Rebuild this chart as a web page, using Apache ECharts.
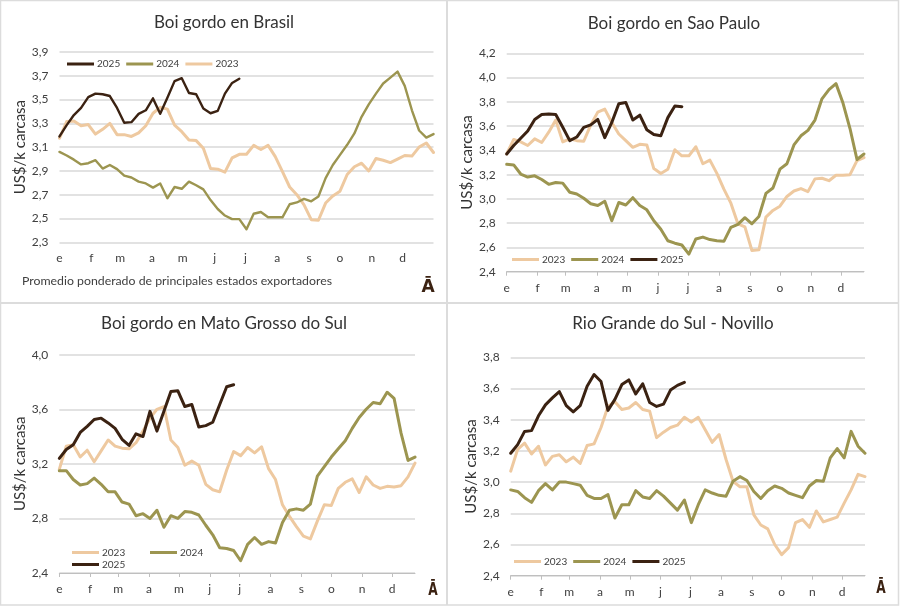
<!DOCTYPE html>
<html><head><meta charset="utf-8">
<style>html,body{margin:0;padding:0;background:#fff}#c{width:900px;height:606px}</style>
<script src="https://cdn.jsdelivr.net/npm/echarts@6/dist/echarts.min.js"></script>
</head><body><div id="c"></div>
<script>
const monthLabels=['e','f','m','a','m','j','j','a','s','o','n','d'];
const monthDays=[0,31,59,90,120,151,181,212,243,273,304,334];
const weekDays=[0,7,14,21,28,35,42,49,56,63,70,77,84,91,98,105,112,119,126,133,140,147,154,161,168,175,182,189,196,203,210,217,224,231,238,245,252,259,266,273,280,287,294,301,308,315,322,329,336,343,350,357,364];

const brasil2023=[3.175,3.315,3.32,3.28,3.29,3.21,3.25,3.30,3.205,3.205,3.19,3.22,3.28,3.385,3.435,3.42,3.285,3.23,3.16,3.155,3.09,2.92,2.915,2.89,3.01,3.04,3.04,3.115,3.08,3.115,3.02,2.895,2.765,2.70,2.615,2.49,2.485,2.63,2.69,2.73,2.87,2.935,2.965,2.90,3.005,2.99,2.97,3.0,3.03,3.025,3.10,3.135,3.055];
const brasil2024=[3.06,3.03,2.995,2.955,2.965,2.99,2.92,2.95,2.915,2.86,2.845,2.81,2.795,2.76,2.795,2.67,2.765,2.75,2.81,2.78,2.745,2.655,2.58,2.525,2.495,2.495,2.41,2.54,2.555,2.51,2.51,2.51,2.62,2.635,2.665,2.645,2.685,2.84,2.95,3.035,3.12,3.215,3.355,3.46,3.55,3.635,3.685,3.735,3.615,3.41,3.24,3.18,3.21];
const brasil2025=[3.19,3.285,3.37,3.43,3.52,3.55,3.545,3.53,3.43,3.305,3.31,3.38,3.41,3.51,3.38,3.515,3.655,3.68,3.555,3.545,3.425,3.385,3.405,3.55,3.64,3.675];

const paulo2023=[3.37,3.49,3.47,3.44,3.495,3.465,3.55,3.65,3.47,3.495,3.48,3.475,3.61,3.715,3.74,3.63,3.535,3.48,3.425,3.45,3.445,3.25,3.21,3.245,3.405,3.355,3.355,3.43,3.29,3.32,3.21,3.08,2.965,2.795,2.77,2.575,2.58,2.85,2.905,2.94,3.02,3.065,3.085,3.06,3.165,3.17,3.15,3.195,3.195,3.2,3.315,3.34];
const paulo2024=[3.285,3.28,3.205,3.18,3.19,3.16,3.12,3.135,3.13,3.055,3.04,3.005,2.96,2.945,2.98,2.82,2.97,2.95,3.01,2.945,2.91,2.82,2.75,2.655,2.635,2.62,2.545,2.67,2.685,2.665,2.655,2.65,2.765,2.79,2.845,2.795,2.855,3.045,3.09,3.245,3.29,3.445,3.52,3.565,3.65,3.825,3.90,3.95,3.79,3.58,3.325,3.37];
const paulo2025=[3.37,3.44,3.5,3.56,3.655,3.695,3.70,3.695,3.59,3.48,3.51,3.59,3.61,3.655,3.505,3.63,3.785,3.795,3.65,3.69,3.57,3.53,3.52,3.67,3.765,3.76];

const mato2023=[3.16,3.33,3.34,3.25,3.30,3.215,3.295,3.375,3.33,3.315,3.31,3.355,3.44,3.535,3.60,3.62,3.375,3.32,3.19,3.22,3.19,3.05,3.01,2.995,3.155,3.29,3.26,3.32,3.28,3.325,3.165,3.085,2.9,2.815,2.74,2.67,2.65,2.78,2.90,2.895,3.02,3.065,3.09,2.99,3.105,3.045,3.02,3.035,3.03,3.04,3.105,3.205];
const mato2024=[3.15,3.15,3.085,3.045,3.055,3.095,3.05,2.995,2.995,2.92,2.905,2.82,2.835,2.80,2.86,2.735,2.82,2.80,2.85,2.845,2.825,2.75,2.68,2.585,2.58,2.565,2.49,2.61,2.66,2.61,2.63,2.62,2.77,2.86,2.87,2.86,2.905,3.11,3.18,3.25,3.31,3.37,3.46,3.54,3.60,3.65,3.64,3.725,3.68,3.425,3.225,3.25];
const mato2025=[3.24,3.305,3.34,3.43,3.475,3.525,3.535,3.50,3.46,3.38,3.335,3.42,3.40,3.585,3.44,3.585,3.73,3.735,3.62,3.635,3.47,3.48,3.505,3.635,3.765,3.78];

const rio2023=[3.07,3.21,3.25,3.18,3.23,3.11,3.165,3.175,3.13,3.16,3.12,3.235,3.245,3.35,3.485,3.515,3.465,3.475,3.51,3.465,3.455,3.285,3.32,3.35,3.365,3.415,3.385,3.415,3.335,3.255,3.305,3.145,3.005,2.97,2.97,2.79,2.725,2.70,2.60,2.535,2.58,2.74,2.76,2.71,2.815,2.745,2.76,2.775,2.865,2.95,3.05,3.035];
const rio2024=[2.95,2.94,2.90,2.87,2.945,2.99,2.95,3.0,3.0,2.99,2.98,2.915,2.895,2.895,2.92,2.77,2.855,2.855,2.945,2.905,2.895,2.945,2.91,2.865,2.82,2.885,2.74,2.855,2.95,2.93,2.915,2.91,3.005,3.035,3.01,2.94,2.895,2.945,2.975,2.96,2.93,2.915,2.90,2.975,3.01,3.005,3.155,3.215,3.155,3.325,3.23,3.185];
const rio2025=[3.185,3.24,3.325,3.33,3.425,3.495,3.54,3.58,3.49,3.45,3.49,3.615,3.69,3.645,3.46,3.53,3.625,3.655,3.565,3.63,3.51,3.485,3.50,3.59,3.62,3.64];

const COL={'2023':'#eec9a0','2024':'#9c9550','2025':'#3b2212'};
const TXT='#404040', FONT='Lato';
const pts=a=>a.map((v,i)=>[weekDays[i],v]);

const panels=[
 {title:'Boi gordo en Brasil',tx:224,ty:23,box:[59.5,52,374,190.3],min:2.3,max:3.9,step:.2,xmax:364,ticks:false,
  series:{'2023':brasil2023,'2024':brasil2024,'2025':brasil2025},w:{'2023':3,'2024':2.4,'2025':2.4},
  legends:[{names:['2025','2024','2023'],left:67,top:59,gap:6}]},
 {title:'Boi gordo en Sao Paulo',tx:674,ty:24,box:[506.7,53.3,357.3,218.4],min:2.4,max:4.2,step:.2,xmax:357,ticks:true,
  series:{'2023':paulo2023,'2024':paulo2024,'2025':paulo2025},w:{'2023':3,'2024':3,'2025':3},
  legends:[{names:['2023','2024','2025'],left:512,top:254.5,gap:6}]},
 {title:'Boi gordo en Mato Grosso do Sul',tx:224,ty:324,box:[59.3,354.7,355.7,218.3],min:2.4,max:4.0,step:.4,xmax:357,ticks:true,
  series:{'2023':mato2023,'2024':mato2024,'2025':mato2025},w:{'2023':3,'2024':3,'2025':3},
  legends:[{names:['2023'],left:72,top:547.5,gap:6},{names:['2024'],left:150,top:547.5,gap:6},{names:['2025'],left:72,top:559.5,gap:6}]},
 {title:'Rio Grande do Sul - Novillo',tx:673,ty:324,box:[510.7,357.3,354.3,218.4],min:2.4,max:3.8,step:.2,xmax:357,ticks:true,
  series:{'2023':rio2023,'2024':rio2024,'2025':rio2025},w:{'2023':3,'2024':3,'2025':3},
  legends:[{names:['2023','2024','2025'],left:514,top:556.5,gap:6}]}
];

const option={animation:false,backgroundColor:'#fff',textStyle:{fontFamily:FONT},title:[],grid:[],xAxis:[],yAxis:[],legend:[],series:[],graphic:[]};
panels.forEach((p,k)=>{
 const [l,t,w,h]=p.box;
 option.grid.push({left:l,top:t,width:w,height:h,containLabel:false});
 option.xAxis.push({type:'value',gridIndex:k,min:0,max:p.xmax,splitLine:{show:false},
  axisLine:{show:p.ticks,onZero:false,lineStyle:{color:'#bfbfbf',width:1}},
  axisTick:{show:p.ticks,length:4,inside:false,customValues:monthDays,lineStyle:{color:'#bfbfbf'}},
  axisLabel:{customValues:monthDays,margin:10,fontFamily:FONT,fontSize:12,color:TXT,hideOverlap:false,formatter:v=>monthLabels[monthDays.indexOf(v)]}});
 option.yAxis.push({type:'value',gridIndex:k,min:p.min,max:p.max,interval:p.step,
  name:'US$/k carcasa',nameLocation:'middle',nameRotate:90,nameGap:28,nameTextStyle:{fontFamily:FONT,fontSize:15,color:'#333'},
  axisLine:{show:false},axisTick:{show:false},
  splitLine:{lineStyle:{color:'#d9d9d9',width:1.5}},
  axisLabel:{margin:11,fontFamily:FONT,fontSize:12,color:TXT,formatter:v=>v.toFixed(1).replace('.',',')}});
 ['2023','2024','2025'].forEach(y=>{
  option.series.push({name:y,type:'line',xAxisIndex:k,yAxisIndex:k,data:pts(p.series[y]),showSymbol:false,symbol:'none',smooth:false,
   lineStyle:{color:COL[y],width:p.w[y],cap:'round',join:'round'},itemStyle:{color:COL[y]},silent:true});
 });
 p.legends.forEach(g=>{
  option.legend.push({data:g.names,left:g.left,top:g.top,padding:0,orient:'horizontal',itemWidth:27,itemHeight:10,itemGap:g.gap,icon:'path://M0 0H27V3H0Z',
   textStyle:{fontFamily:FONT,fontSize:10,color:TXT,padding:[0,0,0,-2]},selectedMode:false});
 });
 option.title.push({text:p.title,left:p.tx,top:p.ty,textAlign:'center',textVerticalAlign:'middle',padding:0,textStyle:{fontFamily:FONT,fontSize:17,fontWeight:'normal',color:'#333'}});
});
const border='#dcdcdc';
option.graphic.push({type:'rect',silent:true,z:-1,shape:{x:0.5,y:0.5,width:898,height:604.5},style:{fill:'#fff',stroke:border,lineWidth:1.5}});
option.graphic.push({type:'line',silent:true,z:-1,shape:{x1:447,y1:0,x2:447,y2:605},style:{stroke:border,lineWidth:2}});
option.graphic.push({type:'line',silent:true,z:-1,shape:{x1:0,y1:303,x2:899,y2:303},style:{stroke:border,lineWidth:2}});
option.graphic.push({type:'text',silent:true,left:22,top:275,style:{text:'Promedio ponderado de principales estados exportadores',fontFamily:FONT,fontSize:12.3,fill:TXT}});
[[428,287,.95],[433,590,.68],[881,588,.68]].forEach(a=>{
 option.graphic.push({type:'text',silent:true,x:a[0],y:a[1],scaleX:a[2],style:{text:'Ā',fontFamily:'"DejaVu Sans"',fontWeight:'bold',fontSize:18,fill:'#3b2212',textAlign:'center',textVerticalAlign:'middle'}});
});
const chart=echarts.init(document.getElementById('c'),null,{renderer:'canvas'});
chart.setOption(option);
</script></body></html>
